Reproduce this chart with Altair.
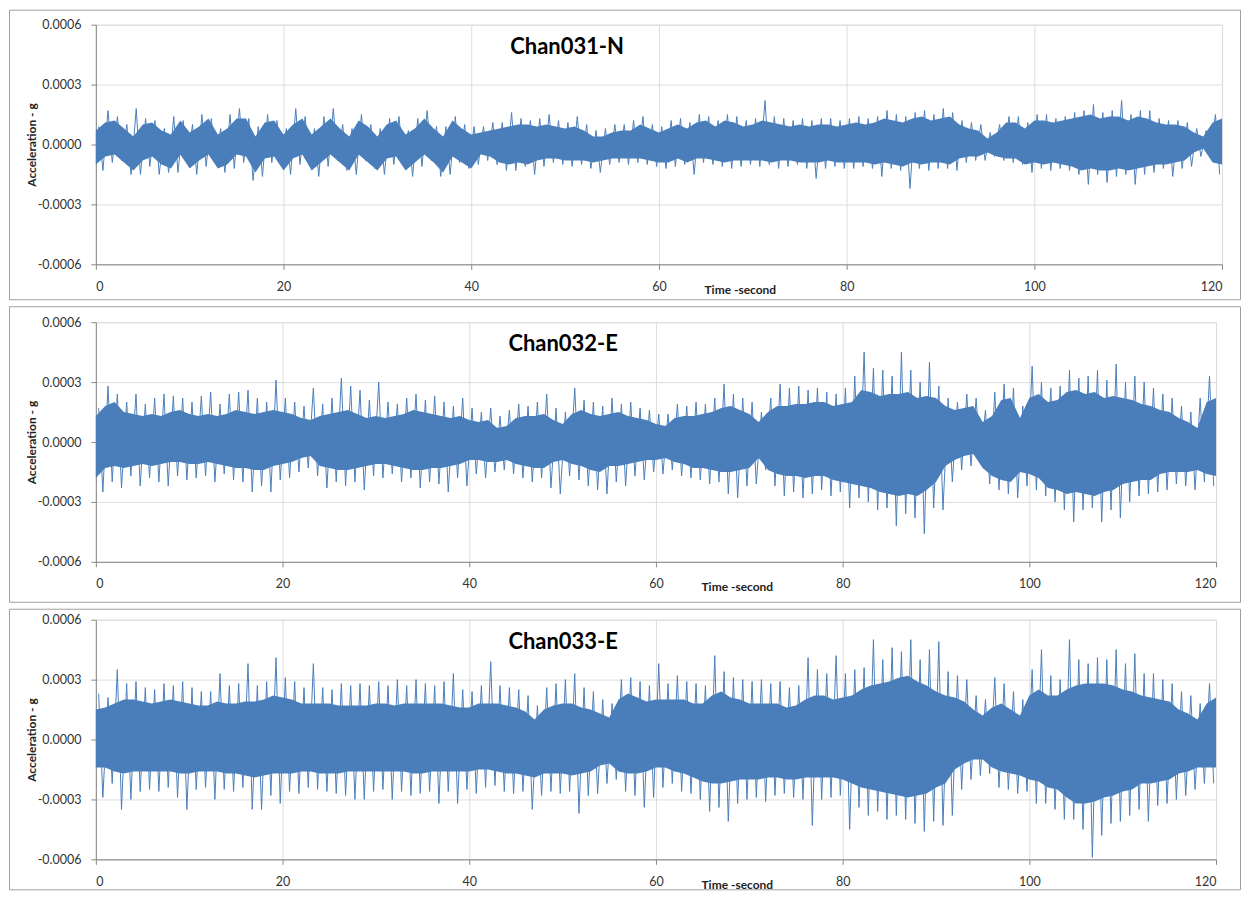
import altair as alt
import pandas as pd

TIME_TICKS = [0, 20, 40, 60, 80, 100, 120]
ACC_TICKS = [-0.0006, -0.0003, 0.0, 0.0003, 0.0006]
TITLES = ["Chan031-N", "Chan032-E", "Chan033-E"]
X_TITLE = "Time -second"
Y_TITLE = "Acceleration - g"

# All amplitudes below are in units of 1e-5 g.
# core_top / core_bot: edges of the dense band at whole seconds t = 0..120
# peak_hi / peak_lo: extreme spikes inside each one-second bin 0..119

ch31_core_top = [7, 11, 12, 8, 4, 10, 11, 7, 5, 12, 6, 9, 13, 5, 8, 13, 13, 4, 11, 12,
                 5, 10, 13, 5, 9, 13, 8, 4, 12, 9, 4, 10, 12, 5, 8, 13, 8, 4, 12, 8,
                 5,
                 6, 7, 8, 9, 10, 10, 9, 10, 9, 8, 9, 7, 4, 4, 6, 7, 7, 10, 8, 6,
                 8, 10, 8, 11, 12, 9, 12, 11, 9, 10, 12, 11, 10, 9, 10, 9, 10, 10, 9, 10,
                 11, 10, 11, 13, 12, 11, 13, 14, 12, 13, 14, 10, 8, 7, 3, 6, 11, 11, 8, 12,
                 12, 11, 12, 13, 14, 15, 13, 14, 14, 12, 14, 13, 11, 10, 10, 9, 6, 4, 11, 13]
ch31_core_bot = [-10, -6, -5, -9, -13, -8, -6, -10, -12, -5, -12, -8, -5, -12, -10, -5, -6, -14, -7, -6,
                 -13, -7, -5, -13, -9, -5, -9, -13, -5, -9, -13, -7, -6, -13, -9, -5, -9, -14, -6, -9,
                 -12,
                 -5, -6, -9, -10, -9, -10, -8, -7, -7, -8, -8, -8, -9, -8, -7, -7, -7, -7, -8, -9,
                 -9, -7, -9, -7, -7, -8, -9, -8, -8, -8, -8, -9, -8, -8, -9, -9, -9, -8, -9, -9,
                 -9, -9, -10, -9, -10, -11, -9, -10, -9, -9, -10, -7, -6, -6, -4, -6, -7, -7, -10, -9,
                 -10, -9, -10, -11, -13, -12, -13, -13, -12, -13, -12, -11, -10, -10, -9, -8, -4, -2, -9, -10]
ch31_peak_hi = [9, 17, 14, 10, 18, 13, 12, 8, 14, 12, 10, 15, 13, 8, 15, 18, 13, 9, 15, 12,
                8, 18, 14, 8, 14, 18, 10, 8, 15, 10, 8, 13, 14, 7, 13, 17, 9, 9, 14, 10,
                9, 9, 11, 11, 16, 13, 12, 13, 15, 12, 11, 14, 10, 7, 8, 10, 10, 12, 14, 10,
                9, 12, 13, 11, 15, 14, 12, 15, 14, 12, 13, 22, 14, 13, 12, 13, 12, 13, 13, 12,
                13, 14, 13, 14, 17, 15, 14, 16, 17, 15, 18, 16, 12, 11, 10, 6, 10, 14, 14, 11,
                15, 15, 13, 14, 16, 17, 20, 16, 17, 22, 15, 17, 17, 13, 12, 12, 11, 8, 7, 15]
ch31_peak_lo = [-13, -9, -8, -15, -15, -11, -15, -14, -14, -9, -15, -11, -8, -14, -12, -9, -18, -16, -9, -10,
                -15, -10, -9, -16, -11, -8, -13, -15, -8, -12, -15, -10, -9, -16, -11, -8, -16, -15, -9, -12,
                -10, -8, -10, -13, -13, -11, -15, -11, -9, -10, -11, -10, -12, -14, -10, -9, -10, -9, -10, -11,
                -12, -11, -10, -15, -9, -10, -11, -12, -11, -10, -11, -10, -12, -11, -10, -12, -17, -12, -11, -12,
                -12, -11, -12, -16, -12, -13, -22, -12, -13, -12, -12, -13, -9, -8, -8, -6, -8, -9, -10, -14,
                -12, -13, -12, -13, -15, -20, -15, -19, -16, -15, -20, -15, -14, -12, -16, -12, -11, -6, -4, -15]

ch32_core_top = [13, 18, 20, 15, 14, 13, 14, 13, 15, 16, 14, 13, 14, 13, 14, 16, 15, 14, 15, 16,
                 15, 14, 12, 11, 13, 14, 15, 16, 14, 12, 13, 12, 13, 14, 16, 15, 14, 13, 12, 13,
                 11, 10, 11, 7, 8, 12, 13, 13, 14, 11, 9, 14, 16, 14, 13, 14, 15, 13, 12, 11,
                 9, 8, 12, 13, 13, 14, 15, 17, 18, 16, 14, 10, 15, 18, 18, 19, 19, 20, 20, 18,
                 19, 20, 26, 25, 23, 24, 24, 25, 22, 23, 22, 18, 16, 17, 18, 10, 13, 21, 22, 12,
                 22, 24, 20, 21, 25, 26, 24, 25, 22, 23, 22, 21, 19, 18, 16, 15, 12, 10, 7, 20,
                 22]
ch32_core_bot = [-18, -13, -12, -13, -12, -11, -12, -11, -10, -10, -11, -11, -10, -11, -12, -13, -13, -14, -14, -12,
                 -11, -10, -8, -7, -12, -13, -14, -14, -13, -12, -11, -11, -12, -13, -14, -14, -13, -13, -12, -11,
                 -9, -9, -10, -10, -9, -11, -12, -13, -13, -10, -9, -11, -12, -14, -15, -12, -12, -11, -10, -9,
                 -9, -8, -10, -11, -13, -13, -14, -15, -15, -14, -13, -8, -14, -16, -17, -17, -18, -17, -17, -19,
                 -20, -21, -22, -23, -25, -26, -27, -26, -27, -24, -20, -12, -9, -7, -6, -13, -17, -19, -20, -15,
                 -16, -18, -23, -24, -26, -25, -26, -27, -25, -24, -21, -20, -19, -19, -16, -15, -15, -15, -14, -16,
                 -17]
ch32_peak_hi = [17, 28, 24, 20, 24, 19, 22, 24, 23, 22, 20, 23, 25, 19, 24, 25, 26, 22, 20, 31,
                22, 20, 18, 27, 19, 22, 32, 28, 26, 21, 30, 20, 19, 22, 24, 21, 23, 20, 18, 22,
                17, 15, 17, 13, 16, 19, 18, 20, 24, 17, 15, 27, 21, 20, 18, 22, 19, 20, 17, 16,
                14, 14, 19, 18, 20, 19, 22, 29, 24, 22, 20, 15, 22, 29, 27, 28, 26, 27, 25, 24,
                27, 33, 45, 37, 36, 33, 45, 36, 30, 40, 28, 22, 20, 24, 22, 16, 25, 29, 27, 18,
                38, 30, 27, 28, 36, 32, 33, 36, 31, 39, 30, 33, 30, 27, 24, 22, 18, 15, 22, 33]
ch32_peak_lo = [-25, -20, -23, -17, -22, -18, -20, -22, -17, -19, -18, -17, -20, -16, -19, -20, -25, -22, -25, -19,
                -18, -15, -13, -17, -23, -20, -22, -20, -24, -17, -18, -16, -20, -18, -23, -20, -21, -25, -18, -22,
                -16, -18, -15, -14, -16, -18, -20, -18, -23, -26, -17, -19, -22, -24, -26, -20, -22, -17, -19, -15,
                -16, -14, -17, -18, -19, -21, -20, -26, -28, -22, -21, -14, -22, -27, -25, -28, -26, -24, -27, -25,
                -33, -28, -30, -34, -33, -42, -36, -38, -46, -33, -34, -20, -14, -12, -10, -21, -24, -26, -28, -22,
                -24, -27, -30, -34, -40, -34, -33, -40, -34, -38, -30, -27, -26, -25, -24, -21, -22, -24, -20, -22]

ch33_core_top = [15, 16, 18, 20, 20, 19, 18, 19, 20, 19, 18, 17, 17, 19, 18, 18, 19, 19, 20, 22,
                 21, 20, 18, 18, 18, 18, 17, 17, 17, 17, 18, 18, 17, 18, 18, 18, 18, 18, 17, 16,
                 16, 18, 18, 18, 17, 16, 14, 10, 15, 17, 18, 18, 16, 15, 13, 11, 20, 23, 21, 19,
                 20, 20, 20, 20, 18, 18, 22, 24, 21, 20, 18, 18, 18, 18, 16, 17, 20, 22, 22, 20,
                 21, 22, 25, 27, 28, 29, 31, 32, 29, 27, 24, 22, 21, 19, 15, 12, 16, 18, 15, 12,
                 22, 25, 22, 22, 25, 27, 28, 28, 28, 27, 25, 24, 22, 21, 20, 19, 15, 13, 10, 18,
                 21]
ch33_core_bot = [-14, -14, -16, -17, -16, -16, -16, -16, -16, -17, -17, -16, -16, -16, -17, -17, -18, -19, -18, -17,
                 -17, -17, -16, -16, -17, -17, -17, -16, -16, -16, -16, -16, -16, -16, -17, -17, -16, -16, -16, -16,
                 -16, -15, -15, -16, -17, -17, -18, -19, -17, -17, -17, -18, -17, -16, -13, -12, -16, -17, -17, -16,
                 -14, -14, -16, -17, -19, -21, -22, -22, -21, -20, -20, -20, -19, -19, -20, -20, -19, -19, -19, -19,
                 -20, -22, -24, -25, -26, -27, -28, -29, -28, -27, -24, -22, -15, -12, -10, -10, -14, -16, -17, -18,
                 -20, -21, -24, -25, -29, -32, -32, -31, -29, -28, -26, -25, -22, -22, -21, -20, -17, -16, -14, -14,
                 -14]
ch33_peak_hi = [23, 21, 35, 28, 29, 26, 25, 28, 27, 29, 26, 24, 24, 33, 27, 28, 38, 27, 29, 41,
                31, 29, 26, 38, 26, 25, 28, 27, 28, 27, 29, 27, 30, 27, 30, 28, 27, 29, 33, 25,
                24, 27, 39, 27, 26, 25, 22, 17, 26, 28, 30, 33, 26, 24, 20, 18, 30, 31, 29, 27,
                38, 28, 32, 29, 28, 27, 42, 34, 31, 30, 29, 30, 28, 29, 26, 27, 41, 35, 33, 42,
                33, 35, 36, 50, 40, 46, 44, 50, 40, 45, 49, 34, 32, 30, 22, 20, 31, 28, 24, 20,
                35, 45, 32, 30, 50, 40, 38, 41, 40, 45, 38, 43, 33, 33, 30, 28, 24, 22, 18, 28]
ch33_peak_lo = [-29, -22, -35, -30, -26, -25, -26, -24, -29, -35, -25, -24, -30, -25, -26, -24, -35, -35, -28, -32,
                -26, -27, -24, -25, -26, -27, -28, -30, -30, -26, -25, -30, -26, -28, -27, -26, -32, -26, -32, -25,
                -27, -24, -23, -26, -27, -26, -35, -28, -26, -27, -26, -37, -28, -27, -22, -20, -26, -28, -34, -29,
                -24, -22, -26, -27, -30, -36, -34, -41, -32, -30, -29, -31, -28, -27, -29, -30, -43, -30, -29, -28,
                -45, -34, -38, -36, -40, -38, -40, -42, -46, -41, -43, -38, -25, -20, -18, -17, -24, -25, -27, -26,
                -32, -32, -35, -40, -40, -45, -59, -48, -42, -41, -38, -35, -41, -33, -32, -30, -28, -25, -22, -22]

BLUE = "#4a7ebb"
GRID = "#a0a0a0"
FRAME = "#a0a0a0"
FONT = "Lato"
UNIT = 1e-5
PLOT_H = 240
LABEL_SIZE = 12.5


def panel(title, core_top, core_bot, hi, lo, width, xtitle_x, frame_y, frame_y2, title_x):
    core = pd.DataFrame({
        "t": list(range(len(core_top))),
        "acc": [v * UNIT for v in core_top],
        "acc2": [v * UNIT for v in core_bot],
    })
    ts, vs = [], []
    for k in range(len(hi)):
        ts += [k + 0.3, k + 0.75]
        vs += [hi[k] * UNIT, lo[k] * UNIT]
    trace = pd.DataFrame({"t": ts, "acc": vs})

    x = alt.X("t:Q", scale=alt.Scale(domain=[0, 120], nice=False, zero=False),
              axis=alt.Axis(values=TIME_TICKS, title=X_TITLE, format="d",
                            titleX=xtitle_x, titleY=25, titleBaseline="middle",
                            titleAlign="center", labelPadding=11,
                            labelFont=FONT, labelFontSize=LABEL_SIZE, labelColor="#333333",
                            titleFont=FONT, titleFontSize=12, titleFontWeight="bold",
                            titleColor="#222222"))
    y = alt.Y("acc:Q", scale=alt.Scale(domain=[-0.0006, 0.0006], nice=False),
              axis=alt.Axis(values=ACC_TICKS, title=Y_TITLE,
                            labelExpr="replace(format(datum.value, '.4f'), '\u2212', '-')",
                            titleX=-64, titleY=PLOT_H / 2, titleAngle=270,
                            titleAlign="center", titleBaseline="middle",
                            labelPadding=10,
                            labelFont=FONT, labelFontSize=LABEL_SIZE, labelColor="#333333",
                            titleFont=FONT, titleFontSize=12, titleFontWeight="bold",
                            titleColor="#222222"))

    one = pd.DataFrame({"k": [0]})
    frame = alt.Chart(one).mark_rect(fillOpacity=0, stroke=FRAME, strokeWidth=1).encode(
        x=alt.value(-86.5), x2=alt.value(1146.5), y=alt.value(frame_y), y2=alt.value(frame_y2))
    area = alt.Chart(core).mark_area(color=BLUE, opacity=1).encode(x=x, y=y, y2="acc2:Q")
    line = alt.Chart(trace).mark_line(color=BLUE, strokeWidth=1).encode(x=x, y=y)
    label = alt.Chart(one).mark_text(text=title, font=FONT, fontWeight="bold", fontSize=22,
                                     color="black", align="center", baseline="middle").encode(
        x=alt.value(title_x), y=alt.value(22))
    return alt.layer(frame, area, line, label).properties(width=width, height=PLOT_H)


p1 = panel(TITLES[0], ch31_core_top, ch31_core_bot, ch31_peak_hi, ch31_peak_lo,
           1128, 645, -14.5, 275.5, 472)
p2 = panel(TITLES[1], ch32_core_top, ch32_core_bot, ch32_peak_hi, ch32_peak_lo,
           1122, 642, -15.5, 280.5, 468)
p3 = panel(TITLES[2], ch33_core_top, ch33_core_bot, ch33_peak_hi, ch33_peak_lo,
           1122, 642, -10.5, 270.5, 468)

chart = alt.vconcat(p1, p2, p3, spacing=58, bounds="flush").properties(
    padding={"left": 0, "top": 0, "right": 0, "bottom": 0}
).configure_view(stroke=GRID, strokeWidth=1).configure_axis(
    grid=True, gridColor=GRID, gridWidth=1, gridOpacity=1,
    domain=False, ticks=False, tickSize=0,
).configure(background="white")

chart.save("out.html", embed_options={"renderer": "svg", "actions": False})
